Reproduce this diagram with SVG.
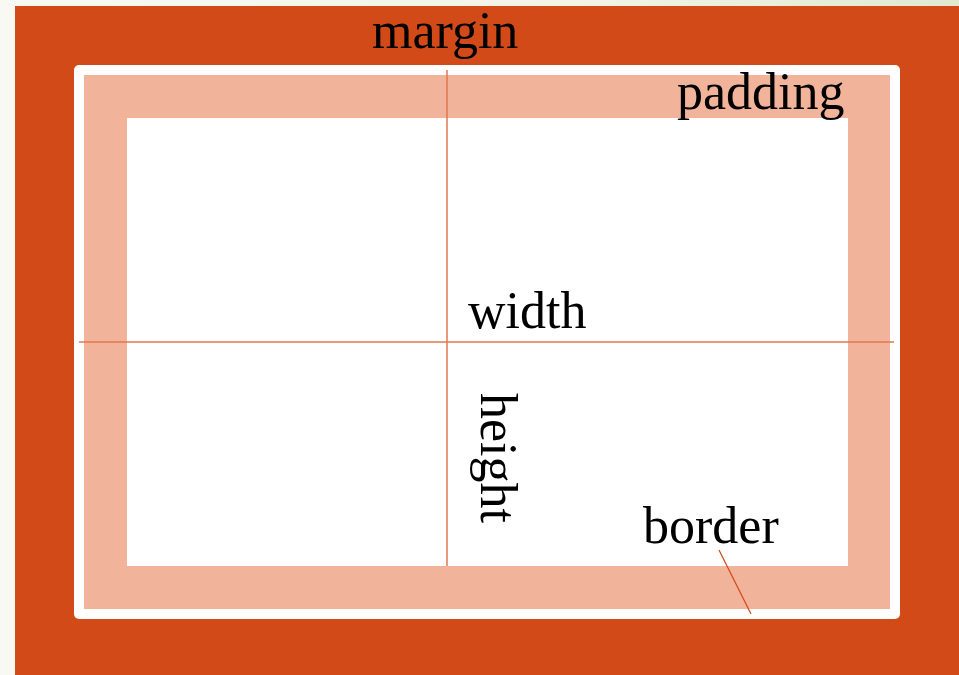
<svg xmlns="http://www.w3.org/2000/svg" width="959" height="675" viewBox="0 0 959 675">
  <defs>
    <linearGradient id="page" x1="0" y1="0" x2="1" y2="0">
      <stop offset="0" stop-color="#f8f9f3"/>
      <stop offset="0.6" stop-color="#f3f4e6"/>
      <stop offset="1" stop-color="#e2e9cf"/>
    </linearGradient>
    <style>
      .label { font-family: "Liberation Serif", "Times New Roman", serif; font-size: 52px; fill: #000; }
      .guide { stroke: #e0764f; stroke-width: 1.5; fill: none; }
      .pointer { stroke: #d24a18; stroke-width: 1.3; fill: none; }
    </style>
  </defs>

  <!-- page background -->
  <rect x="0" y="0" width="959" height="675" fill="#f8f9f3"/>
  <rect x="0" y="0" width="959" height="6" fill="url(#page)"/>

  <!-- margin area -->
  <g id="margin">
    <rect x="15" y="6" width="944" height="669" fill="#d24a18"/>
  </g>

  <!-- border ring -->
  <g id="border">
    <rect x="74" y="65" width="826" height="554" rx="5" ry="5" fill="#ffffff"/>
  </g>

  <!-- padding area -->
  <g id="padding">
    <rect x="84" y="75" width="806" height="534" fill="#f2b39b"/>
  </g>

  <!-- content box -->
  <g id="content">
    <rect x="127" y="118" width="721" height="448" fill="#ffffff"/>
  </g>

  <!-- guide and pointer lines -->
  <g id="connectors">
    <line class="guide" x1="447" y1="70" x2="447" y2="566"/>
    <line class="guide" x1="79" y1="342" x2="894" y2="342"/>
    <line class="pointer" x1="719" y1="550" x2="751" y2="614"/>
  </g>

  <!-- labels -->
  <g id="labels">
    <text id="label-margin" class="label" x="372" y="48">margin</text>
    <text id="label-padding" class="label" x="677" y="109">padding</text>
    <text id="label-width" class="label" x="468" y="328">width</text>
    <text id="label-height" class="label" transform="translate(481,393) rotate(90)">height</text>
    <text id="label-border" class="label" x="643" y="543">border</text>
  </g>
</svg>
